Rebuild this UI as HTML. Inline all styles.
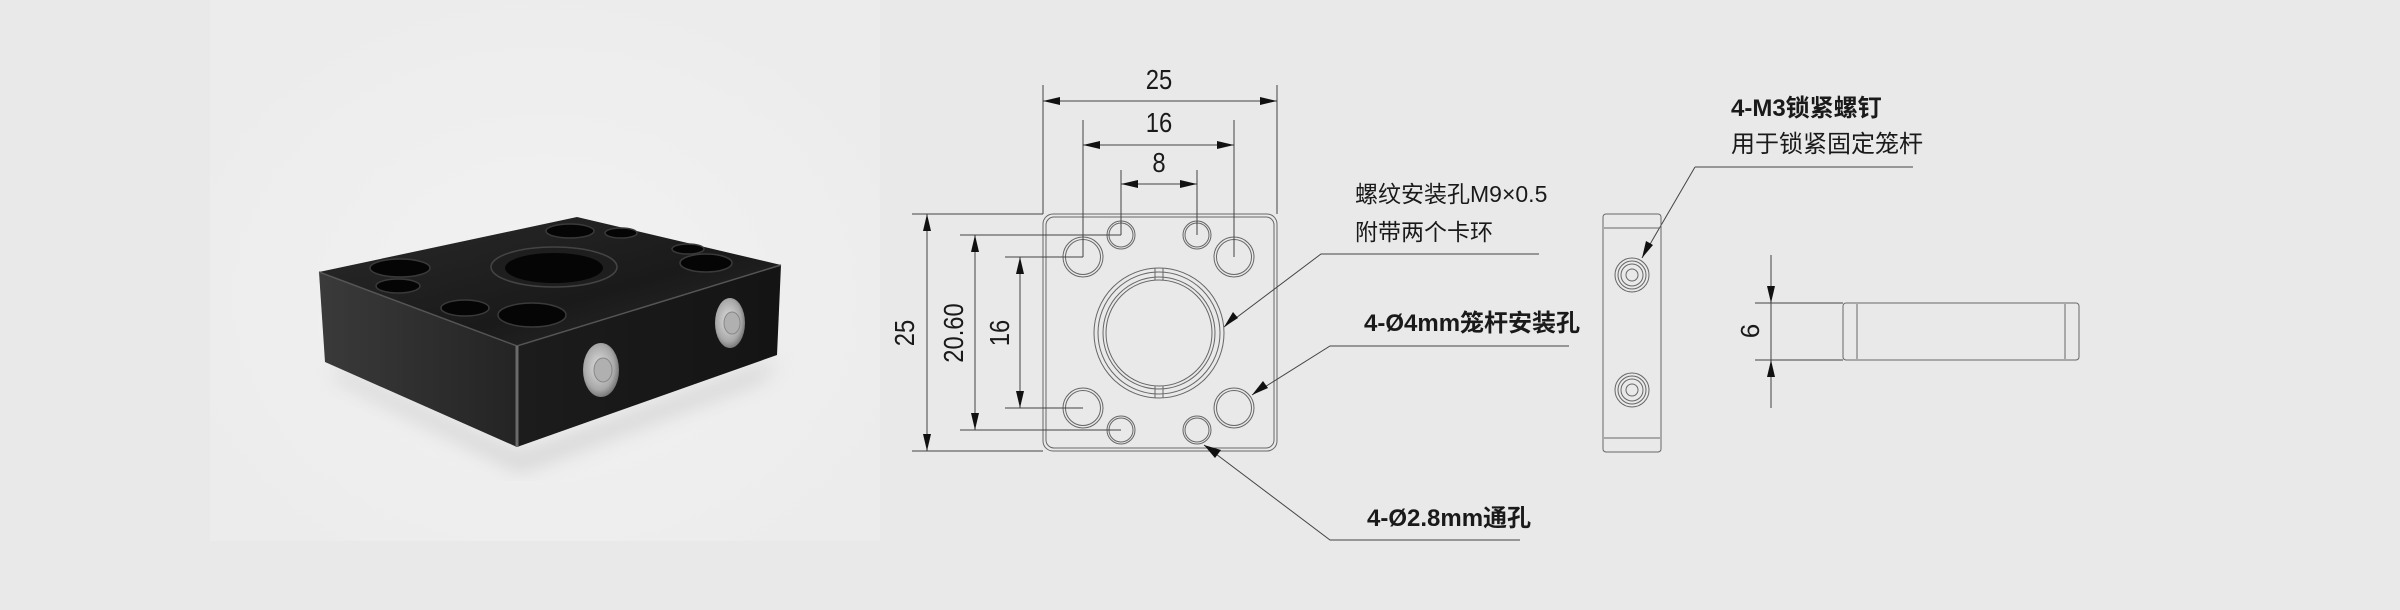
<!DOCTYPE html>
<html><head><meta charset="utf-8"><style>
html,body{margin:0;padding:0;background:#e9e9e9;}
svg{display:block}
text{font-family:"Liberation Sans","Noto Sans CJK SC",sans-serif;fill:#1a1a1a}
</style></head><body>
<svg width="2400" height="610" viewBox="0 0 2400 610" xmlns="http://www.w3.org/2000/svg">
<defs>
<radialGradient id="glow" cx="0.5" cy="0.55" r="0.6">
<stop offset="0" stop-color="#f2f2f2"/><stop offset="1" stop-color="#ececec"/></radialGradient>
<linearGradient id="topg" x1="0" y1="0" x2="1" y2="1">
<stop offset="0" stop-color="#2a2a2a"/><stop offset="0.6" stop-color="#1a1a1a"/><stop offset="1" stop-color="#2c2c2c"/></linearGradient>
<linearGradient id="leftg" x1="0" y1="0" x2="1" y2="0">
<stop offset="0" stop-color="#3a3a3a"/><stop offset="1" stop-color="#242424"/></linearGradient>
<linearGradient id="rightg" x1="0" y1="0" x2="1" y2="0">
<stop offset="0" stop-color="#1c1c1c"/><stop offset="1" stop-color="#141414"/></linearGradient>
<radialGradient id="screw" cx="0.45" cy="0.45" r="0.6">
<stop offset="0" stop-color="#e0e0e0"/><stop offset="0.7" stop-color="#a8a8a8"/><stop offset="1" stop-color="#6a6a6a"/></radialGradient>
<filter id="blur"><feGaussianBlur stdDeviation="10"/></filter>
</defs>
<rect x="210" y="0" width="670" height="541" fill="url(#glow)"/>
<polygon points="330,365 520,455 780,360 760,380 520,470 340,380" fill="#b8b8b8" filter="url(#blur)" opacity="0.6"/>
<polygon points="319,272 517,346 517,447 325,362" fill="url(#leftg)"/>
<polygon points="517,346 781,265 777,355 517,447" fill="url(#rightg)"/>
<polygon points="319,272 577,217 781,265 517,346" fill="url(#topg)"/>
<polyline points="319,272 517,346 781,265" fill="none" stroke="#555" stroke-width="1.5"/>
<line x1="517" y1="346" x2="517" y2="447" stroke="#6a6a6a" stroke-width="3"/>
<g fill="#050505" stroke="#3a3a3a" stroke-width="1.5">
<ellipse cx="400" cy="268" rx="30" ry="9"/>
<ellipse cx="398" cy="286" rx="22" ry="7"/>
<ellipse cx="465" cy="308" rx="24" ry="8"/>
<ellipse cx="532" cy="315" rx="34" ry="12"/>
<ellipse cx="570" cy="231" rx="24" ry="7"/>
<ellipse cx="621" cy="233" rx="16" ry="5"/>
<ellipse cx="688" cy="249" rx="16" ry="5"/>
<ellipse cx="706" cy="263" rx="26" ry="9"/>
</g>
<ellipse cx="554" cy="267" rx="63" ry="20" fill="#1e1e1e" stroke="#444" stroke-width="1.5"/>
<ellipse cx="554" cy="268" rx="49" ry="15" fill="#050505"/>
<ellipse cx="601" cy="370" rx="18" ry="27" fill="url(#screw)"/>
<ellipse cx="603" cy="370" rx="9" ry="12" fill="#b0b0b0" stroke="#888"/>
<ellipse cx="730" cy="323" rx="15" ry="25" fill="url(#screw)"/>
<ellipse cx="732" cy="323" rx="8" ry="11" fill="#b0b0b0" stroke="#888"/>

<g fill="none" stroke="#666" stroke-width="1">
<rect x="1043" y="214" width="234" height="237" rx="10"/>
<rect x="1046" y="217" width="228" height="231" rx="8"/>
<circle cx="1083" cy="257" r="20"/><circle cx="1083" cy="257" r="17.5"/>
<circle cx="1234" cy="257" r="20"/><circle cx="1234" cy="257" r="17.5"/>
<circle cx="1083" cy="408" r="20"/><circle cx="1083" cy="408" r="17.5"/>
<circle cx="1234" cy="408" r="20"/><circle cx="1234" cy="408" r="17.5"/>
<circle cx="1121" cy="235" r="14"/><circle cx="1121" cy="235" r="12"/>
<circle cx="1197" cy="235" r="14"/><circle cx="1197" cy="235" r="12"/>
<circle cx="1121" cy="430" r="14"/><circle cx="1121" cy="430" r="12"/>
<circle cx="1197" cy="430" r="14"/><circle cx="1197" cy="430" r="12"/>
<circle cx="1159" cy="333" r="65"/><circle cx="1159" cy="333" r="61"/>
<circle cx="1159" cy="333" r="56"/><circle cx="1159" cy="333" r="53"/>
<path d="M1155,268 v12 M1163,268 v12 M1155,386 v12 M1163,386 v12"/>
</g>
<g stroke="#444" stroke-width="1" fill="none">
<path d="M1043,85 V214 M1277,85 V214 M1043,101 H1277"/>
<path d="M1083,120 V257 M1234,120 V257 M1083,145 H1234"/>
<path d="M1121,170 V235 M1197,170 V235 M1121,184 H1197"/>
<path d="M912,214 H1043 M912,451 H1043 M927,214 V451"/>
<path d="M960,235 H1121 M960,430 H1121 M975,235 V430"/>
<path d="M1005,257 H1083 M1005,408 H1083 M1020,257 V408"/>
<path d="M1224,327 L1321,254 H1539"/>
<path d="M1252,395 L1330,346 H1569"/>
<path d="M1204,445 L1330,540 H1520"/>
<path d="M1695,167 H1913 M1695,167 L1642,258"/>
<path d="M1755,303 H1843 M1755,360 H1843 M1771,255 V408"/>
</g>
<g fill="#111">
<polygon points="1043,101 1060,97 1060,105"/><polygon points="1277,101 1260,97 1260,105"/>
<polygon points="1083,145 1100,141 1100,149"/><polygon points="1234,145 1217,141 1217,149"/>
<polygon points="1121,184 1138,180 1138,188"/><polygon points="1197,184 1180,180 1180,188"/>
<polygon points="927,214 923,231 931,231"/><polygon points="927,451 923,434 931,434"/>
<polygon points="975,235 971,252 979,252"/><polygon points="975,430 971,413 979,413"/>
<polygon points="1020,257 1016,274 1024,274"/><polygon points="1020,408 1016,391 1024,391"/>
<polygon points="1224,327 1233,312 1238,318"/>
<polygon points="1252,395 1263,381 1268,388"/>
<polygon points="1204,445 1221,450 1215,458"/>
<polygon points="1642,258 1646,241 1653,245"/>
<polygon points="1771,303 1767,286 1775,286"/><polygon points="1771,360 1767,377 1775,377"/>
</g>
<g fill="none" stroke="#666" stroke-width="1">
<rect x="1603" y="214" width="58" height="238" rx="3"/>
<path d="M1604,228 H1660 M1604,438 H1660"/>
<circle cx="1632" cy="275" r="17"/><circle cx="1632" cy="275" r="14"/><circle cx="1632" cy="275" r="11"/><circle cx="1632" cy="275" r="6"/>
<circle cx="1632" cy="390" r="17"/><circle cx="1632" cy="390" r="14"/><circle cx="1632" cy="390" r="11"/><circle cx="1632" cy="390" r="6"/>
<rect x="1843" y="303" width="236" height="57" rx="3"/>
<path d="M1857,304 V359 M2065,304 V359"/>
</g>
<g transform="translate(1159,89) scale(0.85,1)"><text font-size="28" text-anchor="middle">25</text></g>
<g transform="translate(1159,132) scale(0.85,1)"><text font-size="28" text-anchor="middle">16</text></g>
<g transform="translate(1159,172) scale(0.85,1)"><text font-size="28" text-anchor="middle">8</text></g>
<text transform="translate(914,333) rotate(-90) scale(0.85,1)" font-size="28" text-anchor="middle">25</text>
<text transform="translate(963,333) rotate(-90) scale(0.85,1)" font-size="28" text-anchor="middle">20.60</text>
<text transform="translate(1009,333) rotate(-90) scale(0.85,1)" font-size="28" text-anchor="middle">16</text>
<text transform="translate(1759,331) rotate(-90)" font-size="26" text-anchor="middle">6</text>
<text x="1355" y="202" font-size="23">螺纹安装孔M9×0.5</text>
<text x="1355" y="240" font-size="23">附带两个卡环</text>
<text x="1364" y="331" font-size="24" font-weight="bold">4-Ø4mm笼杆安装孔</text>
<text x="1367" y="526" font-size="24" font-weight="bold">4-Ø2.8mm通孔</text>
<text x="1731" y="116" font-size="24" font-weight="bold">4-M3锁紧螺钉</text>
<text x="1731" y="152" font-size="24">用于锁紧固定笼杆</text>
</svg>
</body></html>
